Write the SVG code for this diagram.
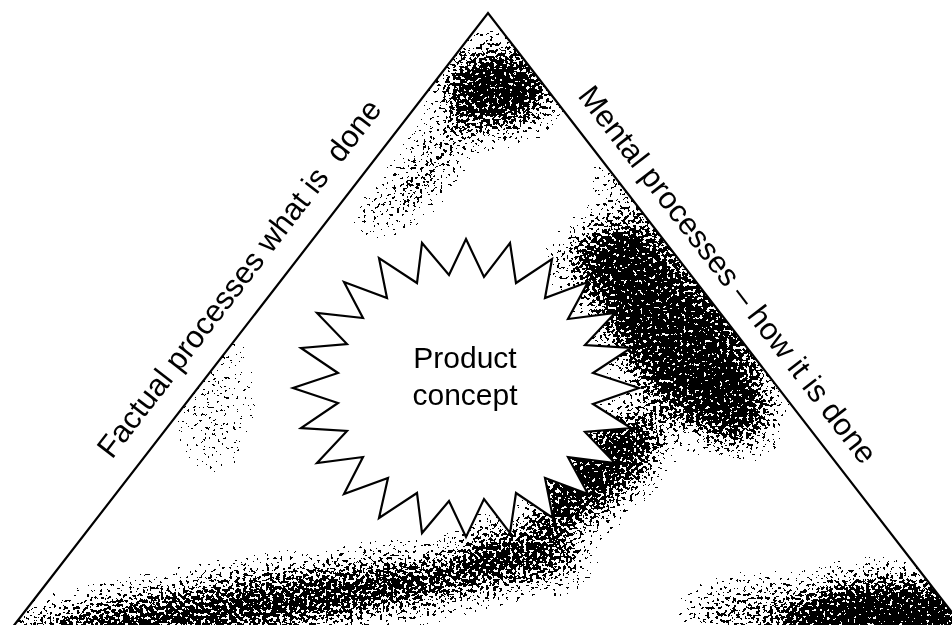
<svg xmlns="http://www.w3.org/2000/svg" width="952" height="625" viewBox="0 0 952 625">
  <style>
    .edge{fill:none;stroke:#000;stroke-width:2.2;stroke-linejoin:miter;stroke-miterlimit:30}
    .star{fill:#fff;stroke:#000;stroke-width:2.2;stroke-linejoin:miter;stroke-miterlimit:20}
    .lbl{font-family:"Liberation Sans",Arial,sans-serif;font-size:31px;fill:#000}
    .core{font-family:"Liberation Sans",Arial,sans-serif;font-size:30px;fill:#000;text-anchor:middle}
    .dens{fill:#000}
  </style>
  <defs>
    <clipPath id="triClip">
      <polygon points="488,13 12,628 964,628"/>
    </clipPath>
    <!-- stipple: blurred density map thresholded against noise -->
    <filter id="grain" filterUnits="userSpaceOnUse" x="0" y="0" width="952" height="625" color-interpolation-filters="sRGB">
      <feGaussianBlur in="SourceAlpha" stdDeviation="16" result="dens"/>
      <feTurbulence type="fractalNoise" baseFrequency="0.3" numOctaves="2" seed="11" result="noise"/>
      <feColorMatrix in="noise" type="matrix" values="0 0 0 0 0  0 0 0 0 0  0 0 0 0 0  2.2 0 0 0 -0.6" result="na"/>
      <feComposite in="dens" in2="na" operator="arithmetic" k1="0" k2="1" k3="-1" k4="0.41" result="diff"/>
      <feComponentTransfer in="diff" result="mask">
        <feFuncA type="discrete" tableValues="0 1"/>
      </feComponentTransfer>
      <feFlood flood-color="#000"/>
      <feComposite in2="mask" operator="in"/>
    </filter>
  </defs>

  <rect width="952" height="625" fill="#fff"/>

  <!-- shading texture inside the triangle -->
  <g id="texture" clip-path="url(#triClip)">
    <g filter="url(#grain)">
      <ellipse class="dens" cx="497" cy="88" rx="55" ry="42" fill-opacity="0.95"/>
      <ellipse class="dens" cx="0" cy="0" rx="70" ry="18" fill-opacity="0.55" transform="translate(440,150) rotate(-52)"/>
      <ellipse class="dens" cx="0" cy="0" rx="45" ry="16" fill-opacity="0.38" transform="translate(395,205) rotate(-30)"/>
      <ellipse class="dens" cx="0" cy="0" rx="135" ry="58" fill-opacity="0.95" transform="translate(675,335) rotate(52)"/>
      <ellipse class="dens" cx="0" cy="0" rx="60" ry="20" fill-opacity="0.45" transform="translate(640,210) rotate(52)"/>
      <ellipse class="dens" cx="598" cy="260" rx="45" ry="28" fill-opacity="0.5"/>
      <ellipse class="dens" cx="0" cy="0" rx="80" ry="38" fill-opacity="0.9" transform="translate(598,470) rotate(-40)"/>
      <ellipse class="dens" cx="520" cy="555" rx="65" ry="30" fill-opacity="0.8"/>
      <ellipse class="dens" cx="0" cy="0" rx="270" ry="30" fill-opacity="0.85" transform="translate(260,604) rotate(-8)"/>
      <ellipse class="dens" cx="885" cy="622" rx="100" ry="45" fill-opacity="1"/>
      <ellipse class="dens" cx="760" cy="612" rx="75" ry="26" fill-opacity="0.55"/>
      <ellipse class="dens" cx="215" cy="400" rx="40" ry="75" fill-opacity="0.2"/>
    </g>
  </g>

  <!-- central starburst -->
  <g id="product-concept">
    <path class="star" d="M466,239 L484,277 L510,243 L516,283 L552,259 L545,298 L588,282 L568,319 L615,313 L585,345 L631,348 L593,373 L639,388 L593,404 L631,428 L585,432 L615,463 L568,457 L588,494 L545,478 L553,518 L516,493 L510,533 L484,499 L466,537 L449,501 L422,533 L417,493 L379,518 L388,478 L344,494 L363,457 L317,463 L347,431 L301,428 L338,403 L293,388 L338,373 L301,348 L347,344 L317,313 L363,318 L344,282 L387,298 L379,258 L417,283 L422,243 L449,275 Z"/>
    <text class="core" x="465" y="368">Product</text>
    <text class="core" x="465" y="405">concept</text>
  </g>

  <!-- triangle sides -->
  <g id="triangle">
    <path class="edge" d="M12,628 L488,13 L964,628"/>
  </g>

  <g id="label-factual">
    <text class="lbl" transform="translate(112,460) rotate(-52.3)" xml:space="preserve">Factual processes what is  done</text>
  </g>

  <g id="label-mental">
    <text class="lbl" transform="translate(577,96) rotate(52.4)">Mental processes – how it is done</text>
  </g>
</svg>
